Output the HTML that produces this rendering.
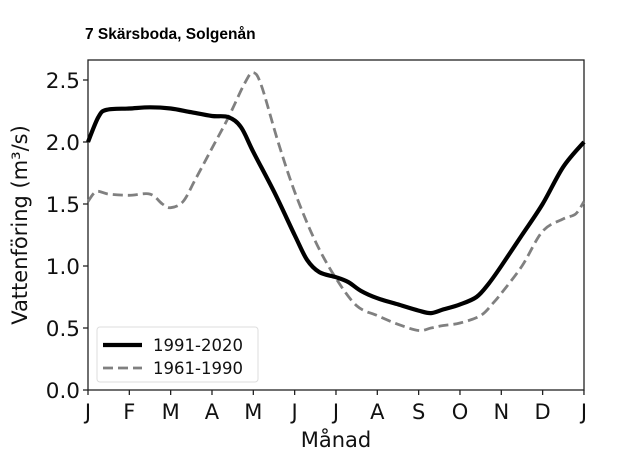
<!DOCTYPE html>
<html><head><meta charset="utf-8"><style>
html,body{margin:0;padding:0;background:#fff;}
svg{display:block;font-family:"DejaVu Sans","Liberation Sans",sans-serif;}
</style></head><body>
<svg id="s" width="639" height="464" viewBox="0 0 639 464" xmlns="http://www.w3.org/2000/svg">
<text x="85" y="39" font-family="Liberation Sans, sans-serif" font-weight="bold" font-size="15.5" fill="#000">7 Skärsboda, Solgenån</text>
<rect x="88" y="60" width="496" height="330" fill="none" stroke="#222" stroke-width="1.3"/>
<g id="ticks" stroke="#222" stroke-width="1.3"></g>
<g font-size="21.5" fill="#111" text-anchor="end">
<text x="80" y="398">0.0</text><text x="80" y="336">0.5</text><text x="80" y="274">1.0</text>
<text x="80" y="212">1.5</text><text x="80" y="150">2.0</text><text x="80" y="88">2.5</text>
</g>
<g id="mon" font-size="21" fill="#111" text-anchor="middle"></g>
<text x="336" y="447" font-size="21" fill="#111" text-anchor="middle">Månad</text>
<text transform="translate(27,225) rotate(-90)" font-size="21" fill="#111" text-anchor="middle">Vattenföring (m³/s)</text>
<path id="gray" fill="none" stroke="#808080" stroke-width="2.8" stroke-dasharray="10,5"/>
<path id="black" fill="none" stroke="#000" stroke-width="4.2" stroke-linejoin="round"/>
<rect x="97" y="327" width="161" height="55" rx="3" fill="#fff" fill-opacity="0.85" stroke="#ddd"/>
<line x1="103" y1="345" x2="142" y2="345" stroke="#000" stroke-width="4.2"/>
<line x1="103" y1="368" x2="142" y2="368" stroke="#808080" stroke-width="2.8" stroke-dasharray="10,5"/>
<text x="153" y="351" font-size="16.5" fill="#111">1991-2020</text>
<text x="153" y="374" font-size="16.5" fill="#111">1961-1990</text>
</svg>
<script>
function X(t){return 88+t*41.33}function Y(v){return 390-v*124}
var b=[[0,2.0],[0.25,2.2],[0.45,2.26],[1,2.27],[1.5,2.28],[2,2.27],[2.5,2.24],[3,2.21],[3.4,2.2],[3.7,2.12],[4,1.92],[4.5,1.6],[5,1.25],[5.3,1.05],[5.6,0.95],[6,0.91],[6.3,0.87],[6.6,0.8],[7,0.74],[7.5,0.69],[8,0.64],[8.3,0.62],[8.6,0.65],[9,0.69],[9.4,0.75],[9.7,0.86],[10,1.0],[10.5,1.25],[11,1.5],[11.5,1.8],[12,2.0]];
var g=[[0,1.52],[0.2,1.6],[0.5,1.58],[1,1.57],[1.5,1.58],[1.8,1.5],[2,1.47],[2.3,1.52],[2.6,1.7],[3,1.95],[3.4,2.2],[3.8,2.48],[4,2.56],[4.2,2.45],[4.6,2.0],[5,1.6],[5.5,1.2],[6,0.9],[6.5,0.68],[7,0.6],[7.5,0.53],[8,0.48],[8.3,0.5],[8.6,0.52],[9,0.54],[9.5,0.6],[9.8,0.7],[10,0.78],[10.5,1.0],[11,1.28],[11.5,1.38],[11.8,1.42],[12,1.52]];
function p(a){var P=a.map(function(q){return[X(q[0]),Y(q[1])]});var d='M'+P[0][0].toFixed(1)+','+P[0][1].toFixed(1);
for(var i=0;i<P.length-1;i++){var p0=P[Math.max(0,i-1)],p1=P[i],p2=P[i+1],p3=P[Math.min(P.length-1,i+2)];
var c1=[p1[0]+(p2[0]-p0[0])/6,p1[1]+(p2[1]-p0[1])/6],c2=[p2[0]-(p3[0]-p1[0])/6,p2[1]-(p3[1]-p1[1])/6];
d+='C'+c1[0].toFixed(1)+','+c1[1].toFixed(1)+' '+c2[0].toFixed(1)+','+c2[1].toFixed(1)+' '+p2[0].toFixed(1)+','+p2[1].toFixed(1);}return d}
document.getElementById('black').setAttribute('d',p(b));
document.getElementById('gray').setAttribute('d',p(g));
var ns='http://www.w3.org/2000/svg',tk=document.getElementById('ticks'),mo=document.getElementById('mon');
var m='JFMAMJJASONDJ';
for(var i=0;i<13;i++){var l=document.createElementNS(ns,'line');l.setAttribute('x1',X(i));l.setAttribute('x2',X(i));l.setAttribute('y1',390);l.setAttribute('y2',395);tk.appendChild(l);
var t=document.createElementNS(ns,'text');t.setAttribute('x',X(i));t.setAttribute('y',419);t.textContent=m[i];mo.appendChild(t);}
for(var j=0;j<6;j++){var l=document.createElementNS(ns,'line');l.setAttribute('x1',83);l.setAttribute('x2',88);l.setAttribute('y1',Y(j*0.5));l.setAttribute('y2',Y(j*0.5));tk.appendChild(l);}
</script>
</body></html>
